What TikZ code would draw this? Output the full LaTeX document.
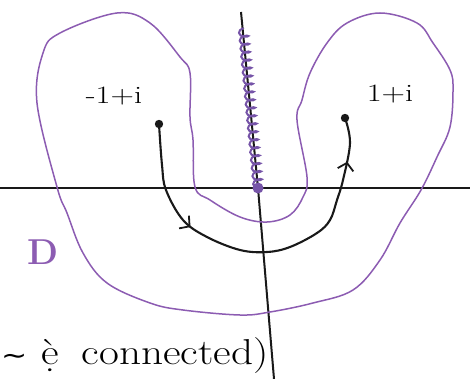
\documentclass[tikz,border=0pt]{standalone}
\usepackage{fontspec}
\newfontfamily\symfont{DejaVu Sans}
\usetikzlibrary{arrows.meta,decorations.pathmorphing,decorations.markings}

\definecolor{regionpurple}{RGB}{140,92,178}
\definecolor{cutpurple}{RGB}{118,84,168}

\begin{document}
\begin{tikzpicture}[x=1pt,y=-1pt]

% styles
\tikzset{
  axis/.style={line width=2pt, black!90},
  region/.style={draw=regionpurple, line width=1.5pt},
  cut/.style={draw=cutpurple, line width=2pt,
    decorate, decoration={coil, amplitude=4.5pt, segment length=8pt}},
  curve/.style={line width=2.1pt, black!90,
    postaction={decorate},
    decoration={markings,
      mark=at position 0.30 with {\arrow{Straight Barb[length=7pt,width=16pt,line width=1.8pt]}},
      mark=at position 0.88 with {\arrow{Straight Barb[length=7pt,width=16pt,line width=1.8pt]}}}},
  lab/.style={font=\fontsize{25}{30}\selectfont},
}

\useasboundingbox (0,0) rectangle (470,379);

% axes
\coordinate (xl) at (0,188);
\coordinate (xr) at (470,188);
\coordinate (O) at (258,188);
\coordinate (top) at (241,12);
\coordinate (bot) at (274,379);
\draw[axis] (xl) -- (xr);
\draw[axis] (top) -- (O) -- (bot);

% branch cut on the imaginary axis
\draw[cut] (O) -- (243,28);
\fill[cutpurple] (O) circle (5.5pt);

% the region D
\draw[region] plot[smooth cycle, tension=0.6] coordinates {
  (57,187) (37,103) (43,53) (60,33) (117,13) (150,23) (180,57)
  (190,73) (190,117) (193,140) (195,187) (210,200) (240,217)
  (267,222) (290,215) (303,197) (307,177) (297,120) (302,100)
  (310,73) (327,43) (347,23) (380,13) (417,23) (433,43) (450,70)
  (453,90) (450,127) (437,157) (421,190) (400,223) (380,260)
  (353,290) (313,303) (270,312) (240,315) (183,310) (150,303)
  (107,283) (83,253) (67,213)};
\node[text=regionpurple, font=\fontsize{36}{40}\selectfont\bfseries] (D) at (43,252) {D};

% points
\coordinate (zA) at (159,124);
\coordinate (zB) at (345,118);
\fill[black!90] (zA) circle (4.2pt);
\fill[black!90] (zB) circle (4.2pt);
\node[lab] (la) at (114,96) {\scalebox{1.3}[1]{-1+i}};
\node[lab] (lb) at (390,94) {\scalebox{1.3}[1]{1+i}};

% path from -1+i to 1+i
\draw[curve] plot[smooth, tension=0.6] coordinates {
  (zA) (162,165) (166,190) (183,220) (207,237) (240,250) (267,252)
  (290,247) (317,233) (330,220) (337,200) (343,180) (350,143) (zB)};

% note
\node[anchor=base west, inner sep=0pt, font=\fontsize{36}{40}\selectfont] (note) at (1,364)
  {\scalebox{1.2}[1]{{\symfont\fontsize{26}{30}\selectfont ∼}\hspace{12pt}\d{\`e}\hspace{8pt} connected)}};

\end{tikzpicture}
\end{document}
